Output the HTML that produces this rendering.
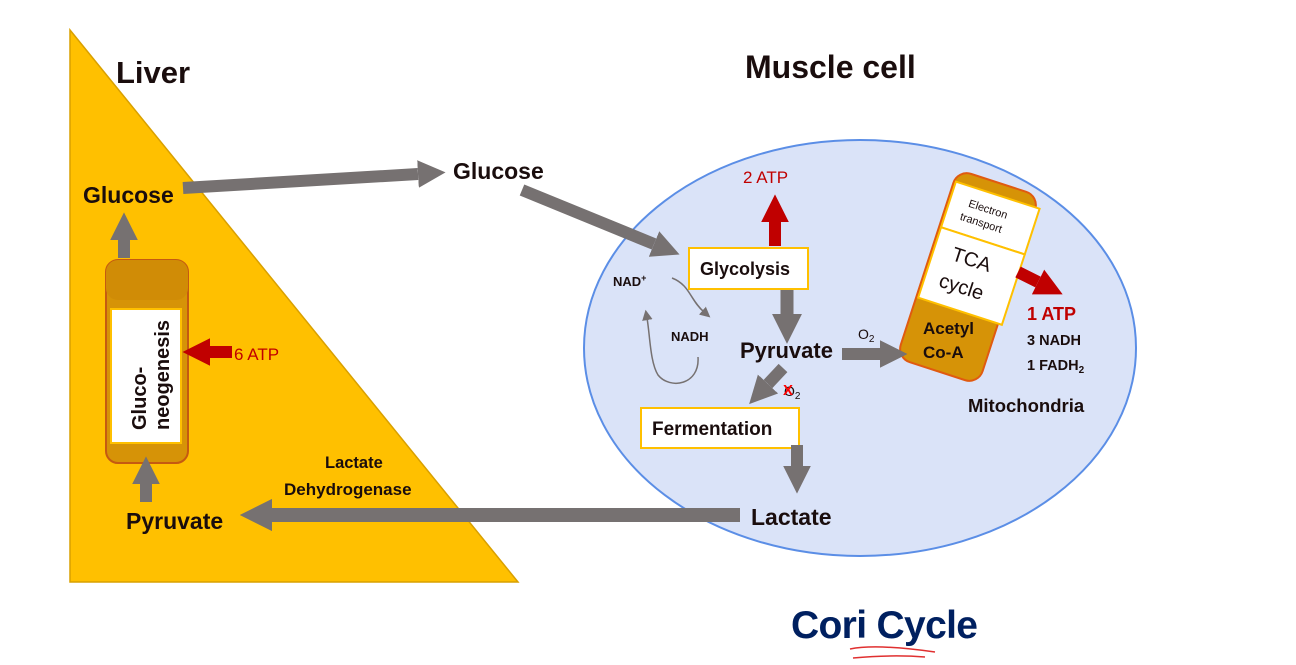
<!DOCTYPE html>
<html><head><meta charset="utf-8"><style>
html,body{margin:0;padding:0;background:#fff}
svg{display:block}
text{font-family:"Liberation Sans",sans-serif;fill:#1a0d0d}
.b{font-weight:bold}
</style></head><body>
<svg width="1296" height="665" viewBox="0 0 1296 665" xmlns="http://www.w3.org/2000/svg">
<defs>
<marker id="g" viewBox="0 0 10 10" refX="0" refY="5" markerWidth="2.3" markerHeight="2.3" orient="auto" markerUnits="strokeWidth"><path d="M0,0L10,5L0,10z" fill="#767171"/></marker>
<marker id="r" viewBox="0 0 10 10" refX="0" refY="5" markerWidth="2.3" markerHeight="2.3" orient="auto" markerUnits="strokeWidth"><path d="M0,0L10,5L0,10z" fill="#c00000"/></marker>
<marker id="t" viewBox="0 0 10 10" refX="2" refY="5" markerWidth="7" markerHeight="7" orient="auto" markerUnits="strokeWidth"><path d="M0,0L10,5L0,10z" fill="#767171"/></marker>
</defs>
<polygon points="70,30 70,582 518,582" fill="#ffc000" stroke="#d9a000" stroke-width="1.5"/>
<ellipse cx="860" cy="348" rx="276" ry="208" fill="#dae3f8" stroke="#5b8ee6" stroke-width="2"/>
<text x="116" y="83" font-size="31" class="b">Liver</text>
<text x="745" y="78" font-size="32" class="b">Muscle cell</text>
<!-- gluconeogenesis capsule -->
<rect x="106" y="260" width="82" height="203" rx="12" fill="#d69307" stroke="#c55a11" stroke-width="2"/>
<rect x="106" y="260" width="82" height="40" rx="12" fill="#d08c06"/>
<rect x="111" y="309" width="70" height="134" fill="#fff" stroke="#ffc000" stroke-width="2"/>
<text transform="translate(146,430) rotate(-90)" font-size="20" class="b">Gluco-</text>
<text transform="translate(169,430) rotate(-90)" font-size="20" class="b">neogenesis</text>
<!-- mitochondria -->
<g transform="translate(968,277) rotate(18)">
<rect x="-43" y="-99" width="86" height="198" rx="14" fill="#d69307" stroke="#e05a10" stroke-width="2"/>
<rect x="-41" y="-87" width="88" height="48" fill="#fff" stroke="#ffc000" stroke-width="2"/>
<rect x="-41" y="-39" width="88" height="74" fill="#fff" stroke="#ffc000" stroke-width="2"/>
<text x="-22" y="-67" font-size="11">Electron</text>
<text x="-26" y="-52" font-size="11">transport</text>
<text x="-22" y="-11" font-size="20">TCA</text>
<text x="-26" y="18" font-size="20">cycle</text>
</g>
<text x="923" y="334" font-size="17" class="b">Acetyl</text>
<text x="923" y="358" font-size="17" class="b">Co-A</text>
<!-- boxes -->
<rect x="689" y="248" width="119" height="41" fill="#fff" stroke="#ffc000" stroke-width="2"/>
<text x="700" y="275" font-size="18" class="b">Glycolysis</text>
<rect x="641" y="408" width="158" height="40" fill="#fff" stroke="#ffc000" stroke-width="2"/>
<text x="652" y="435" font-size="19" class="b">Fermentation</text>
<!-- arrows -->
<g fill="none">
<line x1="183" y1="188" x2="418" y2="174" stroke="#767171" stroke-width="12" marker-end="url(#g)"/>
<line x1="522" y1="190" x2="654" y2="244" stroke="#767171" stroke-width="12" marker-end="url(#g)"/>
<line x1="787" y1="290" x2="787" y2="314" stroke="#767171" stroke-width="13" marker-end="url(#g)"/>
<line x1="775" y1="246" x2="775" y2="222" stroke="#c00000" stroke-width="12" marker-end="url(#r)"/>
<line x1="842" y1="354" x2="880" y2="354" stroke="#767171" stroke-width="12" marker-end="url(#g)"/>
<line x1="783" y1="368" x2="768" y2="384" stroke="#767171" stroke-width="12" marker-end="url(#g)"/>
<line x1="797" y1="445" x2="797" y2="466" stroke="#767171" stroke-width="12" marker-end="url(#g)"/>
<line x1="740" y1="515" x2="272" y2="515" stroke="#767171" stroke-width="14" marker-end="url(#g)"/>
<line x1="146" y1="502" x2="146" y2="484" stroke="#767171" stroke-width="12" marker-end="url(#g)"/>
<line x1="124" y1="258" x2="124" y2="240" stroke="#767171" stroke-width="12" marker-end="url(#g)"/>
<line x1="232" y1="352" x2="210" y2="352" stroke="#c00000" stroke-width="12" marker-end="url(#r)"/>
<line x1="1018" y1="272" x2="1038" y2="282" stroke="#c00000" stroke-width="12" marker-end="url(#r)"/>
<path d="M672,278 C690,285 690,300 704,312" stroke="#767171" stroke-width="1.5" marker-end="url(#t)"/>
<path d="M698,357 C700,385 670,390 658,375 C650,362 650,335 647,318" stroke="#767171" stroke-width="1.5" marker-end="url(#t)"/>
</g>
<!-- labels -->
<text x="83" y="203" font-size="23" class="b">Glucose</text>
<text x="453" y="179" font-size="23" class="b">Glucose</text>
<text x="126" y="529" font-size="23" class="b">Pyruvate</text>
<text x="740" y="358" font-size="22" class="b">Pyruvate</text>
<text x="751" y="525" font-size="23" class="b">Lactate</text>
<text x="325" y="468" font-size="16.5" class="b">Lactate</text>
<text x="284" y="495" font-size="17" class="b">Dehydrogenase</text>
<text x="234" y="360" font-size="17" style="fill:#c00000">6 ATP</text>
<text x="743" y="183" font-size="17" style="fill:#c00000">2 ATP</text>
<text x="1027" y="320" font-size="18" class="b" style="fill:#c00000">1 ATP</text>
<text x="1027" y="345" font-size="14.5" class="b">3 NADH</text>
<text x="1027" y="370" font-size="14.5" class="b">1 FADH<tspan font-size="10" dy="3">2</tspan></text>
<text x="968" y="412" font-size="18.5" class="b">Mitochondria</text>
<text x="613" y="286" font-size="13" class="b">NAD<tspan font-size="9" dy="-5">+</tspan></text>
<text x="671" y="341" font-size="13" class="b">NADH</text>
<text x="858" y="339" font-size="14">O<tspan font-size="10" dy="3">2</tspan></text>
<text x="784" y="396" font-size="14">O<tspan font-size="10" dy="3">2</tspan></text>
<text x="783" y="395" font-size="15" class="b" style="fill:#ff0000">X</text>
<text x="791" y="638" font-size="39" class="b" style="fill:#002060" textLength="187">Cori Cycle</text>
<path d="M850,649 C870,645 900,647 935,652 M853,658 C875,656 900,655 925,657" stroke="#e03030" stroke-width="1.5" fill="none"/>
</svg>
</body></html>
